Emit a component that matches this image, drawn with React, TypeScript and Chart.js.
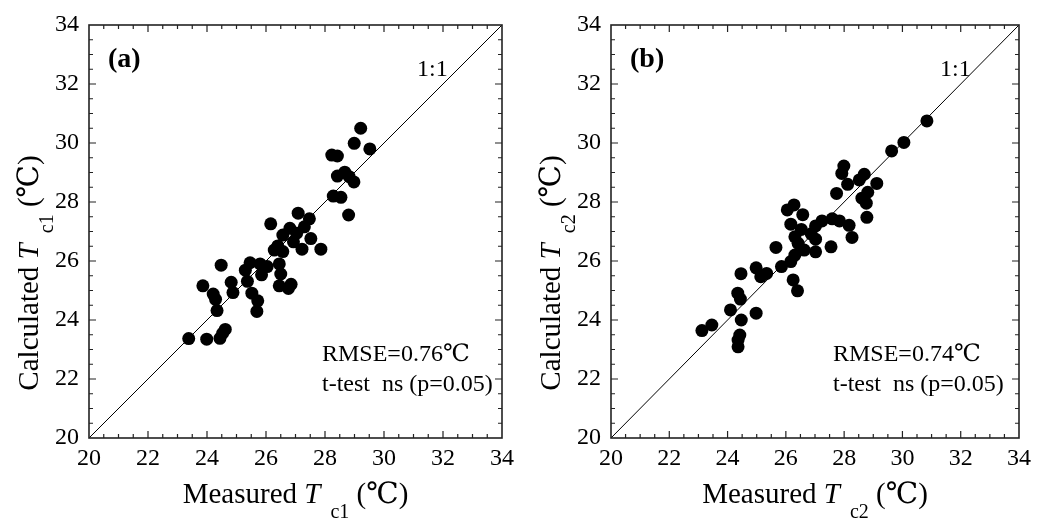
import React, { useEffect, useRef } from "react";
import { Chart, registerables } from "chart.js";

Chart.register(...registerables);

// ---------- data ----------
const axisMin = 20;
const axisMax = 34;
const tickStep = 2;
const oneToOne = [20, 34];

const measuredA = [
  29.21, 28.99, 29.52, 28.23, 28.42, 28.67, 28.42, 28.82, 28.98, 28.28, 28.54, 28.8, 27.09, 27.47, 27.3, 26.16,
  26.81, 26.57, 27.04, 27.52, 26.93, 26.4, 26.28, 26.57, 27.22, 27.86, 24.48, 25.46, 25.8, 25.3, 26.04, 25.85,
  26.45, 26.5, 24.82, 25.37, 23.86, 26.45, 26.85, 26.76, 24.88, 24.21, 25.52, 24.29, 25.72, 24.34, 25.69, 23.38,
  23.99, 24.44, 24.62, 24.53,
];
const calculatedA = [
  30.5, 29.99, 29.8, 29.59, 29.56, 29.01, 28.88, 28.86, 28.68, 28.2, 28.16, 27.56, 27.62, 27.43, 27.16, 27.26,
  27.11, 26.88, 26.94, 26.76, 26.65, 26.51, 26.37, 26.32, 26.4, 26.4, 25.86, 25.94, 25.9, 25.69, 25.81, 25.53,
  25.9, 25.56, 25.28, 25.31, 25.16, 25.16, 25.21, 25.07, 24.93, 24.88, 24.91, 24.7, 24.65, 24.32, 24.29, 23.37,
  23.35, 23.38, 23.68, 23.55,
];

const measuredB = [
  30.84, 30.05, 29.63, 27.99, 27.92, 28.69, 28.52, 29.12, 28.12, 27.74, 28.81, 28.61, 28.76, 28.78, 26.28, 26.05,
  26.58, 27.59, 27.84, 27.24, 26.17, 28.17, 27.02, 26.53, 26.87, 28.27, 26.31, 27.02, 26.42, 25.66, 27.55, 26.63,
  27.02, 26.31, 26.17, 25.85, 24.98, 25.34, 24.46, 25.14, 26.25, 26.4, 24.35, 24.44, 24.1, 24.98, 24.47, 23.46,
  23.12, 24.42, 24.36, 24.36,
];
const calculatedB = [
  30.75, 30.02, 29.73, 29.22, 28.97, 28.94, 28.75, 28.63, 28.6, 28.29, 28.33, 28.13, 27.96, 27.48, 27.9, 27.73,
  27.57, 27.43, 27.36, 27.36, 27.25, 27.21, 27.19, 27.07, 26.92, 26.8, 26.82, 26.74, 26.6, 26.46, 26.48, 26.37,
  26.31, 26.2, 25.98, 25.81, 25.77, 25.58, 25.57, 25.47, 25.36, 24.99, 24.91, 24.71, 24.34, 24.23, 24.0, 23.83,
  23.64, 23.49, 23.32, 23.09,
];

const SERIF = '"Liberation Serif", "DejaVu Serif", "Noto Sans CJK SC", serif';

type Seg = { t: string; font: string; dy?: number };

function drawRich(ctx: CanvasRenderingContext2D, segs: Seg[], x: number, y: number, align: "left" | "center") {
  let total = 0;
  for (const s of segs) {
    ctx.font = s.font;
    total += ctx.measureText(s.t).width;
  }
  let cx = align === "center" ? x - total / 2 : x;
  ctx.textBaseline = "alphabetic";
  ctx.textAlign = "left";
  for (const s of segs) {
    ctx.font = s.font;
    ctx.fillText(s.t, cx, y + (s.dy || 0));
    cx += ctx.measureText(s.t).width;
  }
}

type PanelProps = {
  measured: number[];
  calculated: number[];
  width: number;
  areaLeft: number;
  areaRight: number;
  tag: string;
  sub: string;
  rmse: string;
  tagX: number;
  oneX: number;
  statX: number;
};

function Panel(p: PanelProps) {
  const ref = useRef<HTMLCanvasElement | null>(null);
  useEffect(() => {
    if (!ref.current) return;
    const H = 522;
    const decor = {
      id: "decor",
      afterDraw(chart: any) {
        const ctx: CanvasRenderingContext2D = chart.ctx;
        const { left, right, top, bottom } = chart.chartArea;
        const xs = chart.scales.x;
        const ys = chart.scales.y;
        ctx.save();
        ctx.strokeStyle = "#222";
        ctx.lineWidth = 1.6;
        ctx.strokeRect(left, top, right - left, bottom - top);
        ctx.lineWidth = 1.2;
        for (let v = axisMin + 0.5; v < axisMax; v += 0.5) {
          const major = Math.abs(v / tickStep - Math.round(v / tickStep)) < 1e-6;
          const len = major ? 7 : 4;
          const px = xs.getPixelForValue(v);
          const py = ys.getPixelForValue(v);
          ctx.beginPath();
          ctx.moveTo(px, bottom);
          ctx.lineTo(px, bottom - len);
          ctx.moveTo(px, top);
          ctx.lineTo(px, top + len);
          ctx.moveTo(left, py);
          ctx.lineTo(left + len, py);
          ctx.moveTo(right, py);
          ctx.lineTo(right - len, py);
          ctx.stroke();
        }
        ctx.fillStyle = "#000";
        // panel tag
        ctx.font = `bold 28px ${SERIF}`;
        ctx.textAlign = "left";
        ctx.textBaseline = "middle";
        ctx.fillText(p.tag, p.tagX, 60);
        ctx.font = `24px ${SERIF}`;
        ctx.fillText("1:1", p.oneX, 70);
        ctx.textBaseline = "alphabetic";
        ctx.fillText(p.rmse, p.statX, 361);
        ctx.fillText("t-test  ns (p=0.05)", p.statX, 391);
        // x title
        const big = `29px ${SERIF}`;
        const segsX: Seg[] = [
          { t: "Measured ", font: big },
          { t: "T", font: `italic 29px ${SERIF}` },
          { t: "  " + p.sub, font: `20px ${SERIF}`, dy: 15 },
          { t: " (℃)", font: big },
        ];
        drawRich(ctx, segsX, (left + right) / 2, 503, "center");
        // y title
        const segsY: Seg[] = [
          { t: "Calculated ", font: big },
          { t: "T", font: `italic 29px ${SERIF}` },
          { t: "  " + p.sub, font: `20px ${SERIF}`, dy: 15 },
          { t: " (℃)", font: big },
        ];
        ctx.translate(38, 273);
        ctx.rotate(-Math.PI / 2);
        drawRich(ctx, segsY, 0, 0, "center");
        ctx.restore();
      },
    };
    const tickFont = { family: SERIF, size: 24 };
    const chart = new Chart(ref.current, {
      type: "scatter",
      data: {
        datasets: [
          {
            type: "line",
            data: oneToOne.map((v) => ({ x: v, y: v })),
            borderColor: "#000",
            borderWidth: 1,
            pointRadius: 0,
            order: 2,
          } as any,
          {
            data: p.measured.map((m, i) => ({ x: m, y: p.calculated[i] })),
            backgroundColor: "#000",
            borderWidth: 0,
            pointRadius: 6.5,
            pointHoverRadius: 6.5,
            order: 1,
          },
        ],
      },
      options: {
        responsive: false,
        animation: false,
        devicePixelRatio: 1,
        events: [],
        layout: {
          autoPadding: false,
          padding: { left: 0, top: 25, right: p.width - p.areaRight, bottom: 0 },
        },
        plugins: { legend: { display: false }, tooltip: { enabled: false } },
        scales: {
          x: {
            type: "linear",
            min: axisMin,
            max: axisMax,
            grid: { display: false, drawTicks: false, tickLength: 0 },
            border: { display: false },
            ticks: { stepSize: tickStep, font: tickFont, color: "#000", padding: 6, maxRotation: 0, autoSkip: false },
            afterFit: (s: any) => {
              s.height = H - 438;
            },
          },
          y: {
            type: "linear",
            min: axisMin,
            max: axisMax,
            grid: { display: false, drawTicks: false, tickLength: 0 },
            border: { display: false },
            ticks: { stepSize: tickStep, font: tickFont, color: "#000", padding: 10, autoSkip: false },
            afterFit: (s: any) => {
              s.width = p.areaLeft;
            },
          },
        },
      } as any,
      plugins: [decor],
    });
    return () => chart.destroy();
  }, []);
  return (
    <canvas
      ref={ref}
      width={p.width}
      height={522}
      style={{ display: "block", width: p.width, height: 522 }}
    />
  );
}

export default function App() {
  return (
    <div style={{ position: "absolute", left: 0, top: 0, width: 1037, height: 522, background: "#fff", display: "flex" }}>
      <Panel
        measured={measuredA}
        calculated={calculatedA}
        width={522}
        areaLeft={89}
        areaRight={502}
        tag="(a)"
        sub="c1"
        rmse="RMSE=0.76℃"
        tagX={108}
        oneX={417}
        statX={322}
      />
      <Panel
        measured={measuredB}
        calculated={calculatedB}
        width={515}
        areaLeft={89}
        areaRight={501}
        tag="(b)"
        sub="c2"
        rmse="RMSE=0.74℃"
        tagX={108}
        oneX={418}
        statX={311}
      />
    </div>
  );
}
